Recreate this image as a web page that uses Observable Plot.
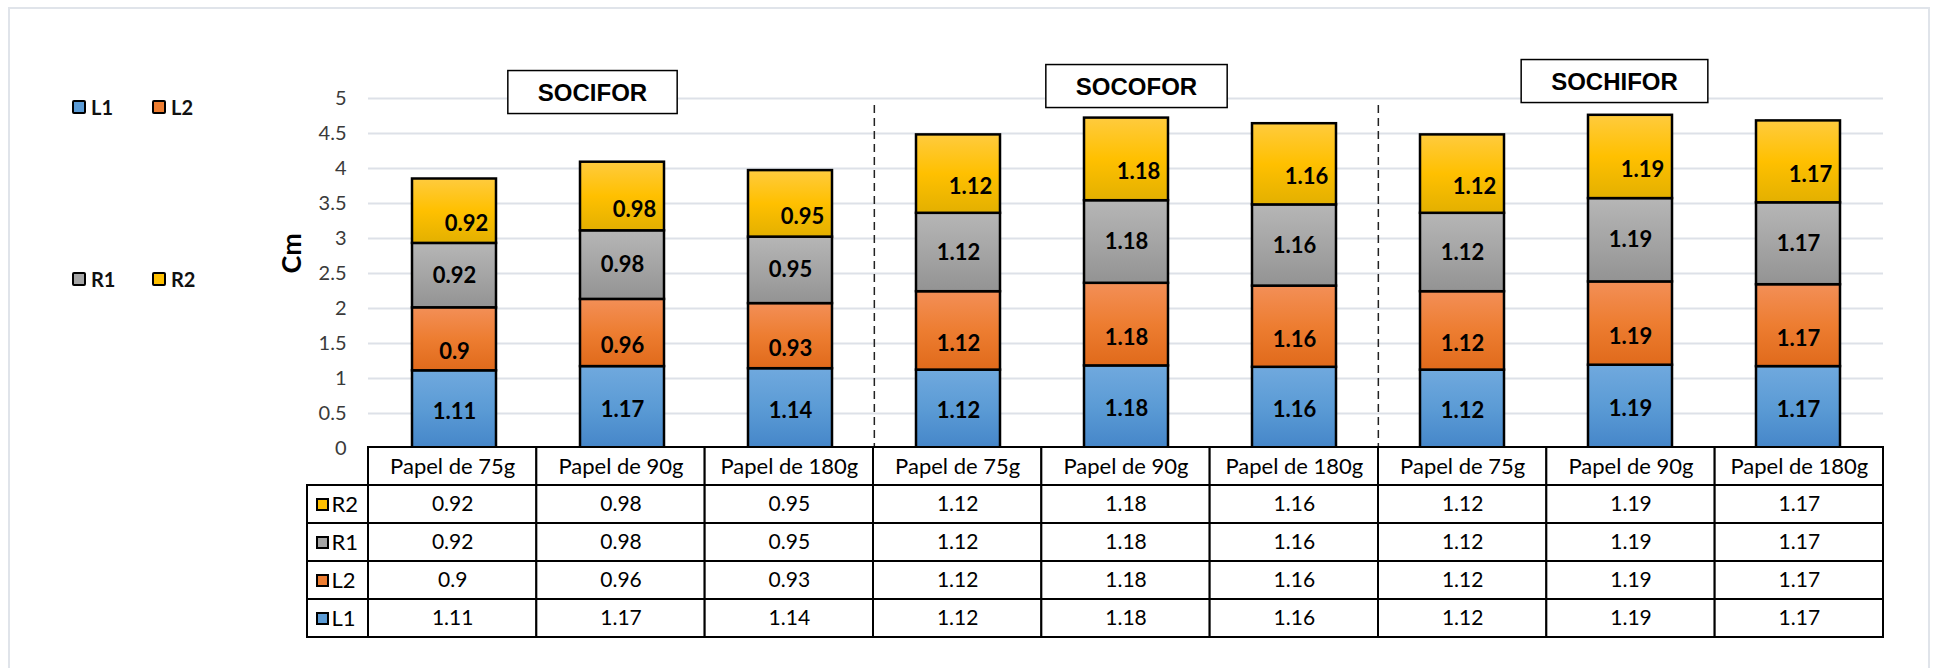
<!DOCTYPE html>
<html><head><meta charset="utf-8">
<script src="https://cdn.jsdelivr.net/npm/d3@7"></script>
<script src="https://cdn.jsdelivr.net/npm/@observablehq/plot@0.6"></script>
<style>
html,body{margin:0;padding:0;background:#fff;}
#wrap{position:relative;width:1936px;height:668px;overflow:hidden;font-family:Lato,"Open Sans",sans-serif;background:#fff;}
#frame{position:absolute;left:8px;top:7px;width:1922px;height:720px;border:2px solid #e0e4ea;box-sizing:border-box;}
#chart{position:absolute;left:0;top:0;}
#table{position:absolute;left:0;top:445px;}
#legend{position:absolute;left:72px;top:97px;display:grid;grid-template-columns:80px 80px;row-gap:152px;}
#legend .item{display:flex;align-items:center;height:20px;font-weight:bold;font-size:20px;color:#111;}
#legend .sw{width:14px;height:14px;border:2.5px solid #000;box-sizing:border-box;border-radius:2px;margin-right:5px;}
</style></head>
<body><div id="wrap"><div id="frame"></div><div id="legend"></div><div id="chart"></div><div id="table"></div></div>
<script>
// ---- data ----
const groups = ["SOCIFOR", "SOCOFOR", "SOCHIFOR"];
const papers = ["Papel de 75g", "Papel de 90g", "Papel de 180g"];
const series = ["L1", "L2", "R1", "R2"];
const L1 = [1.11, 1.17, 1.14, 1.12, 1.18, 1.16, 1.12, 1.19, 1.17];
const L2 = [0.9, 0.96, 0.93, 1.12, 1.18, 1.16, 1.12, 1.19, 1.17];
const R1 = [0.92, 0.98, 0.95, 1.12, 1.18, 1.16, 1.12, 1.19, 1.17];
const R2 = [0.92, 0.98, 0.95, 1.12, 1.18, 1.16, 1.12, 1.19, 1.17];
const yTicks = [0, 0.5, 1, 1.5, 2, 2.5, 3, 3.5, 4, 4.5, 5];
const tableRows = ["R2", "R1", "L2", "L1"];
const yLabel = "Cm";

// ---- styles ----
const values = {L1, L2, R1, R2};
const baseColor = {L1: "#5b9bd5", L2: "#ed7d31", R1: "#a5a5a5", R2: "#ffc000"};
const gradStops = {
  L1: ["#70a9de", "#5b9bd5", "#4586c9"],
  L2: ["#f38f57", "#ed7d31", "#e06a1b"],
  R1: ["#b6b6b6", "#a5a5a5", "#939393"],
  R2: ["#ffcb3e", "#ffc000", "#e3b000"]
};
const labelNudge = {L1: [0, 2], L2: [0, 13], R1: [0, 0], R2: [12, 13]};
const titleNudge = [[-30, -15], [10, -21], [-16, -26]];

const W = 1936, ML = 368, MR = 53;
const keys = groups.flatMap(g => papers.map(p => g + "|" + p));
const paperOf = k => k.split("|")[1];
const bw = (W - ML - MR) / keys.length;

const data = keys.flatMap((k, i) => series.map(s => ({key: k, i, series: s, value: values[s][i]})));
// stacked midpoints for the labels
const labels = [];
keys.forEach((k, i) => {
  let base = 0;
  series.forEach(s => {
    const v = values[s][i];
    labels.push({key: k, series: s, value: v, mid: base + v / 2});
    base += v;
  });
});

const font = "Lato, 'Open Sans', sans-serif";

// ---- legend ----
const legend = document.getElementById("legend");
series.forEach(s => {
  const it = document.createElement("div");
  it.className = "item";
  const sw = document.createElement("div");
  sw.className = "sw";
  sw.style.background = baseColor[s];
  const t = document.createElement("span");
  t.textContent = s;
  it.append(sw, t);
  legend.append(it);
});

// ---- chart ----
const titleData = groups.map((g, j) => ({g, key: keys[j * 3 + 1]}));

const chart = Plot.plot({
  width: W, height: 448,
  marginTop: 98, marginBottom: 0, marginLeft: ML, marginRight: MR,
  style: {fontFamily: font, fontSize: "20px", color: "#3a3a3a", background: "transparent", overflow: "visible"},
  x: {domain: keys, axis: null, padding: 0},
  y: {domain: [0, 5], ticks: yTicks, tickSize: 0, tickPadding: 22, tickFormat: d => String(d), label: null},
  color: {type: "ordinal", domain: series, range: series.map(s => `url(#grad-${s})`)},
  marks: [
    Plot.ruleY(yTicks, {stroke: "#dde1e8", strokeWidth: 2}),
    Plot.ruleX([keys[3], keys[6]], {dx: -bw / 2, insetTop: 7, stroke: "#222", strokeWidth: 1.5, strokeDasharray: "8,5"}),
    Plot.barY(data, Plot.stackY({
      x: "key", y: "value", fill: "series", order: series,
      insetLeft: 42, insetRight: 42, stroke: "#000", strokeWidth: 2.5
    })),
    ...series.map(s => Plot.text(labels.filter(d => d.series === s), {
      x: "key", y: "mid", text: d => String(d.value),
      dx: labelNudge[s][0], dy: labelNudge[s][1],
      fontFamily: font, fontWeight: "bold", fontSize: 22, fill: "#000"
    })),
    Plot.text([yLabel], {frameAnchor: "left", dx: -76, rotate: -90, text: d => d,
      fontFamily: font, fontWeight: "bold", fontSize: 27, fill: "#000"}),
    ...titleData.map((t, j) => Plot.text([t], {
      x: "key", frameAnchor: "top", text: "g",
      dx: titleNudge[j][0], dy: titleNudge[j][1],
      fontFamily: "'Liberation Sans', Arial, sans-serif", fontWeight: "bold", fontSize: 24, fill: "#000"
    }))
  ]
});

// gradients
const defs = d3.select(chart).insert("defs", ":first-child");
series.forEach(s => {
  const g = defs.append("linearGradient").attr("id", `grad-${s}`)
    .attr("x1", 0).attr("y1", 0).attr("x2", 0).attr("y2", 1);
  gradStops[s].forEach((c, k) => g.append("stop").attr("offset", `${k * 50}%`).attr("stop-color", c));
});
document.getElementById("chart").append(chart);

// boxes around the group titles
chart.querySelectorAll("text").forEach(t => {
  if (!groups.includes(t.textContent.trim())) return;
  const bb = t.getBBox();
  const r = document.createElementNS("http://www.w3.org/2000/svg", "rect");
  const px = 30, py = 8;
  r.setAttribute("x", bb.x - px);
  r.setAttribute("y", bb.y - py);
  r.setAttribute("width", bb.width + 2 * px);
  r.setAttribute("height", bb.height + 2 * py);
  r.setAttribute("fill", "#fff");
  r.setAttribute("stroke", "#000");
  r.setAttribute("stroke-width", 1.5);
  if (t.getAttribute("transform")) r.setAttribute("transform", t.getAttribute("transform"));
  t.parentNode.insertBefore(r, t);
});

// ---- data table ----
const cells = tableRows.flatMap(r => keys.map((k, i) => ({row: r, i, value: values[r][i]})));
const table = Plot.plot({
  width: W, height: 196,
  marginTop: 2, marginBottom: 4, marginLeft: ML, marginRight: MR,
  style: {fontFamily: font, fontSize: "20px", color: "#000", background: "transparent", overflow: "visible"},
  x: {domain: [0, keys.length], axis: null},
  y: {domain: ["head", ...tableRows], axis: null, padding: 0},
  color: {type: "identity"},
  marks: [
    Plot.barX(keys, {x1: (d, i) => i, x2: (d, i) => i + 1, y: () => "head", fill: "#fff", stroke: "#000", strokeWidth: 2}),
    Plot.barX(cells, {x1: "i", x2: d => d.i + 1, y: "row", fill: "#fff", stroke: "#000", strokeWidth: 2}),
    Plot.barX(tableRows, {x1: 0, x2: 0, y: d => d, insetLeft: -61, fill: "#fff", stroke: "#000", strokeWidth: 2}),
    Plot.text(keys, {x: (d, i) => i + 0.5, y: () => "head", text: d => paperOf(d), fontFamily: font, fontSize: 22, fill: "#000"}),
    Plot.text(cells, {x: d => d.i + 0.5, y: "row", text: d => String(d.value), fontFamily: font, fontSize: 21, fill: "#000"}),
    Plot.dot(tableRows, {x: 0, y: d => d, dx: -46, symbol: "square", r: 6.2, fill: d => baseColor[d], stroke: "#000", strokeWidth: 2}),
    Plot.text(tableRows, {x: 0, y: d => d, dx: -37, textAnchor: "start", text: d => d, fontFamily: font, fontSize: 22, fill: "#000"})
  ]
});
document.getElementById("table").append(table);
</script>
</body></html>
